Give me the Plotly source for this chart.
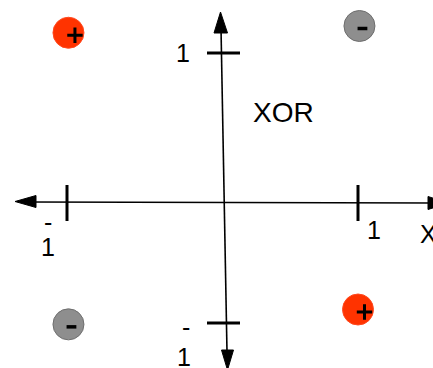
import plotly.graph_objects as go

# ---- data ----
pos_x = [-0.99, 1.00]      # "+" class (red)
pos_y = [1.15, -0.90]
neg_x = [1.01, -0.99]      # "-" class (grey)
neg_y = [1.20, -1.01]
tick_vals = [-1, 1]
title_text = "XOR"
x_axis_name = "X"

W, H = 433, 368
# drawing scale: pixel position of data 0 and pixels per unit
X0, SX = 212.5, 145.5
Y0, SY = 188.0, 135.0


def dx(px):
    return (px - X0) / SX


def dy(py):
    return (Y0 - py) / SY


FONT = "Liberation Sans, Arial, Helvetica, sans-serif"
shapes = []


def seg(p1, p2, w):
    shapes.append(dict(type="line", xref="x", yref="y",
                       x0=dx(p1[0]), y0=dy(p1[1]), x1=dx(p2[0]), y1=dy(p2[1]),
                       line=dict(color="black", width=w)))


def tri(pts):
    path = "M " + " L ".join(f"{dx(a):.5f},{dy(b):.5f}" for a, b in pts) + " Z"
    shapes.append(dict(type="path", xref="x", yref="y", path=path,
                       fillcolor="black", line=dict(color="black", width=1)))


# horizontal axis with arrows
seg((30, 202), (433, 203), 1.6)
tri([(15, 201.5), (36, 195.5), (36, 207.5)])
tri([(428, 196.5), (448, 203), (428, 209.5)])
# vertical axis with arrows
seg((221, 28), (227, 352), 1.6)
tri([(220.5, 12), (214, 33), (227.5, 33)])
tri([(221.5, 350), (233.5, 350), (227.5, 370)])
# ticks at +-1
for v in tick_vals:
    px = X0 + SX * v
    seg((px, 185), (px, 221), 3)
    py = Y0 - SY * v
    seg((207, py), (240, py), 3)

fig = go.Figure()
fig.add_trace(go.Scatter(x=pos_x, y=pos_y, mode="markers", hoverinfo="skip",
                         marker=dict(size=31, color="#FF3300",
                                     line=dict(color="#FF4A20", width=1))))
fig.add_trace(go.Scatter(x=neg_x, y=neg_y, mode="markers", hoverinfo="skip",
                         marker=dict(size=31, color="#8E8E8E",
                                     line=dict(color="#6E6E6E", width=1))))
# signs inside circles (slightly offset to lower right, as drawn)
fig.add_trace(go.Scatter(x=[v + 6.5 / SX for v in pos_x],
                         y=[v - 2.5 / SY for v in pos_y],
                         mode="markers", hoverinfo="skip",
                         marker=dict(symbol="cross-thin", size=11,
                                     line=dict(color="black", width=3))))
fig.add_trace(go.Scatter(x=[v + 3 / SX for v in neg_x],
                         y=[v - 2.5 / SY for v in neg_y],
                         mode="markers", hoverinfo="skip",
                         marker=dict(symbol="line-ew", size=7,
                                     line=dict(color="black", width=3.5))))

ann = []


def label(text, px, py, size=25):
    ann.append(dict(x=dx(px), y=dy(py), xref="x", yref="y", text=text,
                    showarrow=False, xanchor="center", yanchor="middle",
                    font=dict(family=FONT, size=size, color="black")))


label("1", 183, 53)
label(title_text, 283, 112, 28)
label("-", 48, 222)
label("1", 48, 247)
label("1", 374, 230)
label(x_axis_name, 428, 234)
label("-", 186, 327)
label("1", 184, 357)

fig.update_layout(
    width=W, height=H, margin=dict(l=0, r=0, t=0, b=0),
    paper_bgcolor="white", plot_bgcolor="white", showlegend=False,
    shapes=shapes, annotations=ann,
    xaxis=dict(range=[dx(0), dx(W)], visible=False, fixedrange=True),
    yaxis=dict(range=[dy(H), dy(0)], visible=False, fixedrange=True),
)
fig.write_html("out.html", config={"displayModeBar": False},
               post_script="document.body.style.margin='0';"
                           "document.body.style.overflow='hidden';")
